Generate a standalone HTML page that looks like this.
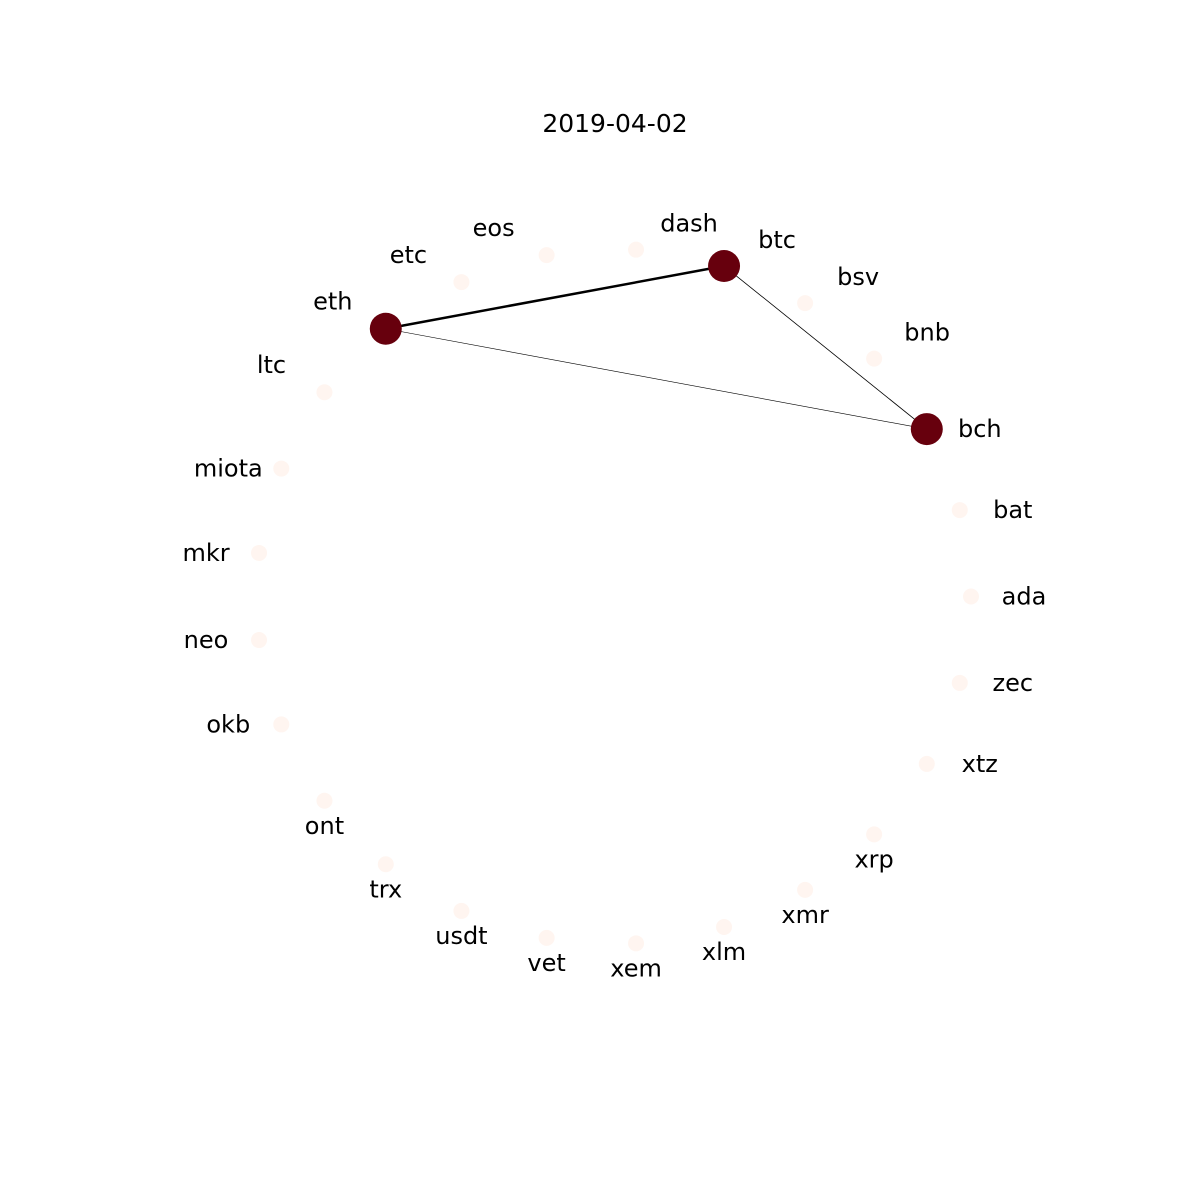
<!DOCTYPE html>
<html><head><meta charset="utf-8">
<style>
html,body{margin:0;padding:0;background:#fff;}
svg{display:block;}
text{font-family:"DejaVu Sans","Liberation Sans",sans-serif;}
</style></head>
<body>
<svg id="chart" width="1200" height="1200" viewBox="0 0 1200 1200">
<text x="615" y="132" font-size="25" text-anchor="middle">2019-04-02</text>
<g id="edges"></g>
<g id="nodes"></g>
<g id="labels"></g>
</svg>
<script>
// node order counterclockwise starting from angle 0 (right)
const nodeNames = ["ada","bat","bch","bnb","bsv","btc","dash","eos","etc","eth","ltc","miota","mkr","neo","okb","ont","trx","usdt","vet","xem","xlm","xmr","xrp","xtz","zec"];
const nodeWeights = [0,0,1,0,0,1,0,0,0,1,0,0,0,0,0,0,0,0,0,0,0,0,0,0,0];
const edgeSources = ["eth","btc","eth"];
const edgeTargets = ["btc","bch","bch"];
const edgeWeights = [2.5,0.8,0.6];

const NS="http://www.w3.org/2000/svg";
const cx=613.6, cy=596.5, Rx=357.4, Ry=347.5;
const n=nodeNames.length;
function pos(i){
  const a=2*Math.PI*i/n;
  return [cx+Rx*Math.cos(a), cy-Ry*Math.sin(a), a*180/Math.PI];
}
function color(w){ return w>0.5?"#67000d":"#fff5f0"; }
const eg=document.getElementById('edges');
for(let k=0;k<edgeSources.length;k++){
  const p=pos(nodeNames.indexOf(edgeSources[k])), q=pos(nodeNames.indexOf(edgeTargets[k]));
  const l=document.createElementNS(NS,'line');
  l.setAttribute('x1',p[0]);l.setAttribute('y1',p[1]);l.setAttribute('x2',q[0]);l.setAttribute('y2',q[1]);
  l.setAttribute('stroke','#000');l.setAttribute('stroke-width',edgeWeights[k]);
  
  
  eg.appendChild(l);
}
const ng=document.getElementById('nodes'), lg=document.getElementById('labels');
for(let i=0;i<n;i++){
  const [x,y,a]=pos(i);
  const c=document.createElementNS(NS,'circle');
  c.setAttribute('cx',x);c.setAttribute('cy',y);
  c.setAttribute('r',nodeWeights[i]>0.5?16:8);
  c.setAttribute('fill',color(nodeWeights[i]));
  
  
  ng.appendChild(c);
  let dx=0,dy=0;
  if(a<35||a>320){dx=53;dy=0;}
  else if(a<90){dx=53;dy=-26;}
  else if(a<150){dx=-53;dy=-27;}
  else if(a<210){dx=-53;dy=0;}
  else {dx=0;dy=25;}
  const t=document.createElementNS(NS,'text');
  t.setAttribute('x',x+dx);t.setAttribute('y',y+dy+8);
  t.setAttribute('font-size','24');t.setAttribute('text-anchor','middle');
  t.textContent=nodeNames[i];
  
  
  lg.appendChild(t);
}
</script>
</body></html>
